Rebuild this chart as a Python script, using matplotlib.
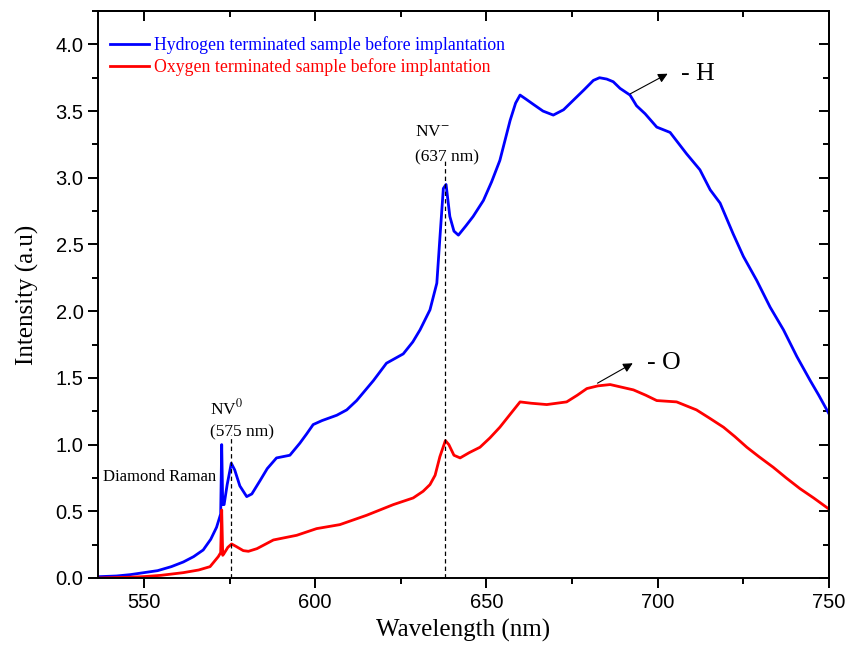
import matplotlib.pyplot as plt
from matplotlib.ticker import MultipleLocator

# spectra (wavelength in nm, intensity in a.u)
h_wl = [537.0, 542, 546, 550, 554, 558, 561.5, 564.5, 567.3, 569.5, 571.2, 572.4,
        572.7, 573.0, 573.4, 574.3, 575.5, 576.5, 578.0, 580.0, 581.5, 583.9, 586.0,
        588.7, 592.6, 595.5, 597.5, 599.4, 602.0, 606.3, 609.2, 612.1, 617.0, 620.8,
        625.7, 628.5, 630.6, 633.5, 635.5, 636.4, 637.4, 638.2, 639.3, 640.5, 641.8,
        644.0, 646.1, 649.1, 651.5, 653.9, 656.9, 658.5, 659.8, 661.5, 663.7, 666.5,
        669.5, 672.5, 675.3, 678.5, 681.2, 683.0, 685.1, 687.0, 689.0, 691.9, 693.8,
        696.3, 699.7, 703.6, 706.0, 708.4, 712.3, 715.3, 718.2, 722.0, 725.0, 728.9,
        732.8, 736.7, 740.6, 744.5, 747.0, 750.0]
h_int = [0.01, 0.015, 0.025, 0.04, 0.055, 0.085, 0.12, 0.16, 0.21, 0.29, 0.38, 0.48,
         1.00, 0.55, 0.55, 0.70, 0.86, 0.81, 0.69, 0.61, 0.63, 0.73, 0.82,
         0.90, 0.92, 1.01, 1.08, 1.15, 1.18, 1.22, 1.26, 1.33, 1.48, 1.61,
         1.68, 1.77, 1.86, 2.01, 2.21, 2.55, 2.92, 2.95, 2.71, 2.60, 2.57,
         2.64, 2.71, 2.83, 2.97, 3.13, 3.43, 3.56, 3.62, 3.59, 3.55, 3.50,
         3.47, 3.51, 3.58, 3.66, 3.73, 3.75, 3.74, 3.72, 3.67, 3.62, 3.54,
         3.48, 3.38, 3.34, 3.26, 3.18, 3.06, 2.91, 2.81, 2.58, 2.41, 2.23,
         2.03, 1.86, 1.66, 1.48, 1.37, 1.23]

o_wl = [537.0, 545, 549.8, 555, 561.5, 566, 569.3, 571.7, 572.4, 572.7, 573.0, 573.3,
        574.5, 575.6, 577.0, 579.0, 580.5, 583.0, 587.8, 594.6, 600.4, 607.2, 615.0,
        622.8, 628.6, 631.5, 633.5, 635.0, 636.4, 638.0, 639.0, 640.5, 642.3, 645.0,
        648.1, 651.0, 653.9, 657.0, 659.8, 663.0, 667.6, 673.4, 676.5, 679.3, 682.5,
        686.1, 689.5, 692.9, 696.5, 699.7, 705.5, 711.3, 715.0, 719.2, 722.5, 726.0,
        729.5, 733.7, 737.5, 741.5, 745.5, 749.8]
o_int = [0.0, 0.005, 0.01, 0.02, 0.04, 0.06, 0.085, 0.16, 0.19, 0.51, 0.17, 0.18,
         0.23, 0.255, 0.235, 0.205, 0.20, 0.22, 0.285, 0.32, 0.37, 0.40, 0.47,
         0.55, 0.60, 0.65, 0.70, 0.77, 0.91, 1.03, 1.00, 0.92, 0.90, 0.94,
         0.98, 1.05, 1.13, 1.23, 1.32, 1.31, 1.30, 1.32, 1.37, 1.42, 1.44,
         1.45, 1.43, 1.41, 1.37, 1.33, 1.32, 1.26, 1.20, 1.13, 1.06, 0.98,
         0.91, 0.83, 0.75, 0.67, 0.60, 0.52]

labels = ["Hydrogen terminated sample before implantation",
          "Oxygen terminated sample before implantation"]

nv0_wl, nv0_top = 575.5, 1.07
nvm_wl, nvm_top = 638.0, 3.13

SERIF = "Liberation Serif"
SANS = "Liberation Sans"
plt.rcParams["mathtext.fontset"] = "stix"

fig = plt.figure(figsize=(8.51, 6.45), dpi=100)
ax = fig.add_axes([0.1152, 0.1039, 0.859, 0.879])

ax.plot(h_wl, h_int, color="#0000ff", lw=2.0, label=labels[0])
ax.plot(o_wl, o_int, color="#ff0000", lw=2.0, label=labels[1])

# dashed markers for the NV lines
ax.plot([nv0_wl, nv0_wl], [0, nv0_top], color="black", lw=0.9, ls=(0, (3.5, 2.5)))
ax.plot([nvm_wl, nvm_wl], [0, nvm_top], color="black", lw=0.9, ls=(0, (3.5, 2.5)))

ax.set_xlim(536.6, 750)
ax.set_ylim(0, 4.25)
ax.xaxis.set_major_locator(MultipleLocator(50))
ax.xaxis.set_minor_locator(MultipleLocator(25))
ax.yaxis.set_major_locator(MultipleLocator(0.5))
ax.yaxis.set_minor_locator(MultipleLocator(0.25))
ax.yaxis.set_major_formatter(plt.FuncFormatter(lambda v, p: f"{v:.1f}"))

for s in ax.spines.values():
    s.set_linewidth(1.4)
ax.tick_params(which="both", direction="out", width=1.4, top=False, right=False)
ax.tick_params(which="major", length=7)
ax.tick_params(which="minor", length=4)
ax.tick_params(labelsize=14.5)
for lab in ax.get_xticklabels() + ax.get_yticklabels():
    lab.set_fontfamily(SANS)

# inward ticks on top and right, no labels
sec_x = ax.secondary_xaxis("top")
sec_x.xaxis.set_major_locator(MultipleLocator(50))
sec_x.xaxis.set_minor_locator(MultipleLocator(25))
sec_x.tick_params(which="both", direction="in", width=1.4, labeltop=False)
sec_x.tick_params(which="major", length=7)
sec_x.tick_params(which="minor", length=4)
sec_y = ax.secondary_yaxis("right")
sec_y.yaxis.set_major_locator(MultipleLocator(0.5))
sec_y.yaxis.set_minor_locator(MultipleLocator(0.25))
sec_y.tick_params(which="both", direction="in", width=1.4, labelright=False)
sec_y.tick_params(which="major", length=7)
sec_y.tick_params(which="minor", length=4)
for sa in (sec_x, sec_y):
    for s in sa.spines.values():
        s.set_linewidth(1.4)

ax.set_xlabel("Wavelength (nm)", fontsize=18, family=SERIF, labelpad=5)
ax.set_ylabel("Intensity (a.u)", fontsize=18, family=SERIF, labelpad=12)

ax.legend(loc="upper left", bbox_to_anchor=(0.0, 0.976), frameon=False,
          labelcolor="linecolor", prop={"family": SERIF, "size": 12.75},
          handlelength=2.2, handletextpad=0.3, labelspacing=0.25, borderaxespad=0.25)

ax.text(538.0, 0.76, "Diamond Raman", fontsize=12, family=SERIF, va="center")
ax.text(569.3, 1.27, "NV$^0$", fontsize=12.5, family=SERIF, va="center")
ax.text(569.3, 1.09, "(575 nm)", fontsize=12.5, family=SERIF, va="center")
ax.text(629.1, 3.34, "NV$^{-}$", fontsize=12.5, family=SERIF, va="center")
ax.text(629.1, 3.15, "(637 nm)", fontsize=12.5, family=SERIF, va="center")

arrow = dict(arrowstyle="-|>", color="black", lw=0.8, mutation_scale=14)
ax.annotate("", xy=(703.6, 3.79), xytext=(691.3, 3.62), arrowprops=arrow)
ax.text(706.8, 3.78, "- H", fontsize=18.5, family=SERIF, va="center")
ax.annotate("", xy=(693.4, 1.62), xytext=(681.7, 1.45), arrowprops=arrow)
ax.text(696.9, 1.61, "- O", fontsize=18.5, family=SERIF, va="center")

fig.savefig("out.png", dpi=100)
